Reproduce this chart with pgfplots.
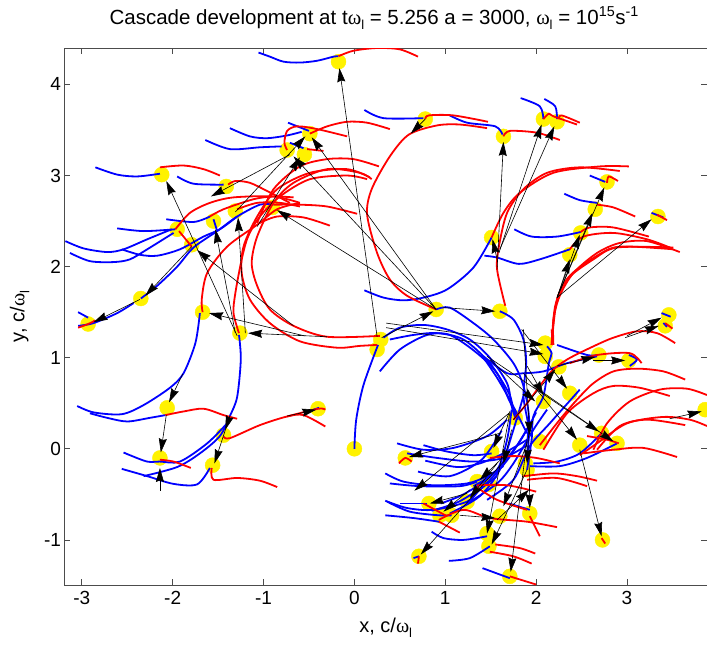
\documentclass[border=0pt]{standalone}
\usepackage{pgfplots}
\pgfplotsset{compat=1.18}
\usepackage{fontspec}
\setmainfont{Liberation Sans}
\newfontfamily\sym{Liberation Serif}
\usetikzlibrary{arrows.meta}
\pgfplotsset{
  bl/.style={color=blue,line width=1.8pt,smooth,no markers},
  rd/.style={color=red,line width=1.8pt,smooth,no markers},
  ar/.style={color=black,line width=0.6pt,no markers,-{Stealth[length=14pt,width=8pt,inset=1.5pt]}},
}
\newcommand\Bl[1]{\addplot[bl] coordinates {#1};}
\newcommand\Rd[1]{\addplot[rd] coordinates {#1};}
\newcommand\Ar[2]{\addplot[ar] coordinates {#1 #2};}
\newcommand\wl{{\sym ω}\raisebox{-5pt}{\fontsize{13}{13}\selectfont l}}
\begin{document}
\begin{tikzpicture}
\useasboundingbox (-64.5pt,-61pt) rectangle (642.5pt,585pt);
\begin{axis}[
  clip mode=individual,
  scale only axis,width=642.5pt,height=537pt,at={(0pt,0pt)},anchor=south west,
  xmin=-3.19,xmax=3.88,ymin=-1.495,ymax=4.40,
  xtick={-3,-2,-1,0,1,2,3},xticklabels={-3,-2,-1,0,1,2,3},
  ytick={-1,0,1,2,3,4},yticklabels={-1,0,1,2,3,4},
  tick align=inside,major tick length=6pt,
  axis line style={color=black!70,line width=0.9pt},
  tick style={color=black!70,line width=0.8pt},
  ticklabel style={font=\fontsize{19}{21}\selectfont},
  xticklabel style={yshift=-3pt},
  xlabel={x, c/\wl},ylabel={y, c/\wl},
  label style={font=\fontsize{20}{22}\selectfont},
  xlabel style={at={(axis description cs:0.5,0)},anchor=base,yshift=-47pt},
  ylabel style={at={(axis description cs:0,0.5)},anchor=base,yshift=40pt},
  title={Cascade development at t\wl{} = 5.256 a = 3000, \wl{} = 10\textsuperscript{15}s\textsuperscript{-1}},
  title style={font=\fontsize{20.5}{22}\selectfont,at={(axis description cs:0.482,1)},anchor=base,yshift=18pt},
]
\addplot[only marks,mark=*,mark size=7.5pt,color=yellow,mark options={draw=yellow,fill=yellow}] coordinates {
(-.175,4.25)(-.49,3.46)(-.55,3.23)(-.74,3.28)(-2.12,3.01)(-1.41,2.88)(-1.95,2.41)(-1.55,2.50)(-1.31,2.61)(-.90,2.65)(-1.79,2.24)
(-2.35,1.65)(-2.93,1.37)(-1.67,1.50)(-1.26,1.27)(-2.06,.45)(-1.44,.15)(-2.14,-.10)(-1.56,-.18)(-.40,.44)(0,0)(.29,1.20)(.25,1.09)
(.90,1.53)(1.60,1.51)(.78,3.62)(1.64,3.43)(2.08,3.62)(2.23,3.59)(1.51,2.32)(2.37,2.13)(2.49,2.37)(2.65,2.63)(2.78,2.93)(3.34,2.55)
(3.46,1.47)(3.42,1.35)
(2.10,1.16)(2.10,1.015)(2.25,.90)(2.37,.61)(1.77,.34)(2.04,.08)(1.51,-.03)(.56,-.10)(.82,-.60)(2.69,1.03)(3.02,.97)(3.86,.43)
(2.72,.17)(2.48,.04)(2.89,.06)(2.08,.52)(1.90,-.23)(1.88,-.16)(1.35,-.36)(1.48,-.39)(1.24,-.58)(.94,-.73)(1.07,-.73)(1.60,-.74)
(1.93,-.71)(1.46,-.93)(1.48,-1.07)(.71,-1.18)(2.73,-1.00)(1.71,-1.40)
};
% blue tracks
\Bl{(-1.055,4.35)(-.93,4.305)(-.78,4.25)(-.6,4.24)(-.41,4.26)(-.23,4.305)(-.175,4.31)}
\Bl{(-.73,3.58)(-.5,3.49)}
\Bl{(-1.37,3.52)(-1.15,3.43)(-.96,3.41)(-.74,3.44)(-.58,3.48)}
\Bl{(-1.64,3.39)(-1.37,3.29)(-1.04,3.31)(-.8,3.32)}
\Bl{(-.71,3.36)(-.56,3.30)}
\Bl{(-2.85,3.09)(-2.61,3.01)(-2.39,2.99)(-2.14,3.02)}
\Bl{(-1.95,2.99)(-1.77,2.91)(-1.44,2.90)}
\Bl{(-2.07,2.52)(-1.77,2.49)(-1.59,2.55)}
\Bl{(-2.61,2.42)(-2.32,2.39)(-1.97,2.41)}
\Bl{(-3.18,2.28)(-2.98,2.20)(-2.72,2.16)(-2.54,2.19)(-2.28,2.30)(-2.01,2.41)}
\Bl{(-3.13,2.15)(-2.91,2.06)(-2.65,2.05)(-2.47,2.08)(-2.28,2.19)(-1.99,2.37)}
\Bl{(-2.56,2.19)(-2.36,2.13)(-2.17,2.12)(-1.92,2.19)(-1.66,2.33)(-1.48,2.41)(-1.29,2.55)}
\Bl{(-2.35,1.65)(-2.17,1.79)(-1.95,2.00)(-1.77,2.21)(-1.51,2.39)(-1.29,2.55)(-1.04,2.68)(-.89,2.68)}
\Bl{(-3.04,1.35)(-2.87,1.38)(-2.61,1.49)(-2.43,1.60)}
\Bl{(-3.04,1.50)(-2.93,1.44)}
\Bl{(-1.55,2.52)(-1.51,2.39)}
\Bl{(.11,3.72)(.32,3.63)(.76,3.63)}
\Bl{(1.05,3.66)(1.24,3.58)(1.55,3.54)(1.63,3.45)}
\Bl{(1.83,3.85)(2.04,3.76)(2.08,3.62)}
\Bl{(2.09,3.84)(2.21,3.76)(2.23,3.62)}
\Bl{(.11,1.74)(.32,1.66)(.54,1.63)(.76,1.66)(1.02,1.75)(1.31,1.99)(1.51,2.32)}
\Bl{(1.43,2.12)(1.57,2.10)(1.81,2.03)(2.04,2.08)(2.37,2.19)}
\Bl{(1.76,2.41)(1.95,2.33)(2.23,2.33)(2.49,2.38)}
\Bl{(2.31,2.80)(2.48,2.73)(2.67,2.70)}
\Bl{(2.59,3.0)(2.76,2.93)}
\Bl{(3.27,2.59)(3.40,2.54)}
\Bl{(3.38,1.49)(3.48,1.45)}
\Bl{(3.40,1.38)(3.44,1.34)}
\Bl{(.90,1.53)(1.05,1.55)(1.31,1.38)(1.53,1.20)(1.75,.94)(1.86,.69)(1.92,.36)(1.90,.06)}
\Bl{(1.60,1.51)(1.75,1.42)(1.86,1.2)(1.89,.94)(1.86,.58)(1.92,.21)(1.90,-.08)}
\Bl{(-1.70,1.49)(-1.75,1.16)(-1.88,.83)(-2.03,.67)(-2.32,.48)(-2.56,.38)(-2.87,.40)(-3.05,.47)}
\Bl{(-1.27,1.25)(-1.25,.98)(-1.29,.57)(-1.37,.36)(-1.48,.14)(-1.70,-.05)(-1.95,-.20)(-2.32,-.30)}
\Bl{(-2.08,.37)(-2.25,.34)(-2.50,.30)(-2.72,.34)(-2.91,.39)}
\Bl{(-1.40,.28)(-1.62,.06)(-1.92,-.14)(-2.14,-.14)(-2.28,-.14)(-2.47,-.07)(-2.54,-.04)}
\Bl{(-1.59,-.21)(-1.73,-.39)(-1.99,-.385)(-2.28,-.30)(-2.56,-.22)}
\Bl{(-.45,.43)(-.39,.45)}
\Bl{(0,0)(.02,.32)(.10,.70)(.26,1.14)}
\Bl{(.32,1.22)(.50,1.33)(.76,1.36)(1.02,1.31)(1.27,1.20)(1.49,1.0)(1.68,.72)(1.73,.47)(1.77,.34)}
\Bl{(.39,1.2)(.65,1.25)(.91,1.27)(1.20,1.2)(1.49,.94)(1.70,.61)(1.75,.43)(1.80,.32)}
\Bl{(.28,.85)(.50,1.09)(.80,1.25)(1.05,1.25)(1.35,1.05)(1.57,.83)(1.70,.54)(1.79,.36)}
\Bl{(1.42,1.015)(1.68,.83)(1.86,.83)(2.08,.85)(2.34,.94)(2.67,1.015)}
\Bl{(1.40,1.03)(1.57,.78)(1.73,.50)(1.90,.17)}
\Bl{(.47,.06)(.76,-.01)(1.09,.01)(1.46,.14)(1.68,.32)}
\Bl{(.76,.04)(1.02,-.03)(1.31,-.07)(1.51,-.05)}
\Bl{(.78,-.13)(1.13,-.20)(1.38,-.16)(1.64,-.05)(1.90,.10)}
\Bl{(.58,-.05)(.91,-.10)(1.31,-.14)(1.64,-.10)(1.90,.04)}
\Bl{(.34,-.27)(.54,-.36)(.87,-.40)(1.24,-.38)(1.46,-.30)(1.64,-.19)}
\Bl{(.39,-.38)(.72,-.41)(1.16,-.41)(1.35,-.36)}
\Bl{(.34,-.57)(.58,-.65)(.87,-.67)(1.24,-.58)(1.38,-.45)(1.57,-.30)}
\Bl{(.36,-.58)(.61,-.69)(.93,-.73)(1.07,-.73)}
\Bl{(.34,-.73)(.65,-.76)(.93,-.80)}
\Bl{(.50,-.60)(.80,-.60)}
\Bl{(.85,-.91)(.98,-.98)(1.20,-1.0)(1.46,-.96)}
\Bl{(1.04,-1.23)(1.27,-1.20)(1.49,-1.07)}
\Bl{(1.41,-1.31)(1.71,-1.42)}
\Bl{(.65,-1.20)(.71,-1.18)}
\Bl{(2.72,.17)(2.48,-.05)(2.23,-.14)(1.97,-.16)}
\Bl{(2.89,.06)(2.56,-.10)(2.26,-.19)(1.93,-.19)}
\Bl{(2.23,1.14)(2.56,1.03)(2.67,1.03)}
\Bl{(3.02,1.03)(3.11,.98)(3.03,.91)}
\Bl{(2.12,1.125)(2.17,1.05)(2.14,.94)(2.08,.58)(1.97,.36)(1.95,.10)(1.90,-.23)}
\Bl{(1.73,.43)(1.68,.10)(1.57,-.23)(1.31,-.41)}
\Bl{(1.86,.58)(1.75,.21)(1.60,-.23)(1.38,-.52)(1.05,-.71)}
\Bl{(2.12,.43)(1.97,.21)(1.75,-.16)(1.57,-.38)(1.24,-.60)}
\Bl{(2.48,.65)(2.15,.28)(1.93,.03)(1.75,-.34)(1.46,-.56)}
\Bl{(1.70,-.60)(1.93,-.67)}
\Bl{(2.0,.40)(1.80,.05)(1.50,-.30)(1.20,-.50)(.95,-.60)}
\Bl{(1.95,.30)(1.70,-.10)(1.45,-.38)(1.15,-.58)(.85,-.68)}
\Bl{(1.62,.20)(1.40,-.12)(1.05,-.30)(.70,-.25)}
% red tracks
\Rd{(-.175,4.31)(-.01,4.37)(.25,4.40)(.50,4.385)(.70,4.305)}
\Rd{(-.49,3.46)(-.30,3.54)(-.08,3.59)(.14,3.58)(.39,3.51)}
\Rd{(-.74,3.28)(-.77,3.36)(-.74,3.49)(-.63,3.54)(-.41,3.51)(-.08,3.43)}
\Rd{(-.52,3.29)(-.34,3.27)}
\Rd{(-2.14,3.09)(-1.88,3.11)(-1.66,3.07)(-1.48,3.0)}
\Rd{(-1.39,2.90)(-1.31,2.94)(-1.15,2.92)(-.96,2.83)(-.71,2.70)}
\Rd{(.28,1.24)(-.30,1.23)(-.67,1.35)(-.93,1.53)(-1.07,1.79)(-1.13,2.04)(-1.07,2.33)(-.89,2.70)(-.67,2.92)(-.30,3.07)(.06,3.03)(.19,2.96)}
\Rd{(.25,1.14)(.06,1.13)(-.19,1.11)(-.60,1.18)(-.93,1.38)(-1.15,1.64)(-1.24,1.93)(-1.22,2.22)(-1.07,2.55)(-.85,2.85)(-.49,3.03)(-.08,3.07)(.17,2.98)}
\Rd{(-1.27,1.27)(-1.33,1.49)(-1.31,1.71)(-1.24,2.08)(-1.17,2.33)(-1.04,2.55)(-.82,2.77)(-.49,2.96)(-.08,3.0)(.14,2.96)}
\Rd{(-1.67,1.50)(-1.68,1.64)(-1.62,1.93)(-1.40,2.22)(-1.07,2.46)(-.85,2.63)(-.60,2.70)}
\Rd{(-1.04,2.48)(-.85,2.55)(-.56,2.54)(-.27,2.45)}
\Rd{(-.89,2.68)(-.60,2.68)(-.30,2.66)(.03,2.58)}
\Rd{(-1.97,2.41)(-1.81,2.59)(-1.59,2.70)(-1.33,2.76)(-.89,2.77)(-.60,2.70)}
\Rd{(-1.59,2.55)(-1.44,2.63)(-1.11,2.74)(-.89,2.77)(-.67,2.76)}
\Rd{(-1.29,2.63)(-1.07,2.70)(-.82,2.70)(-.60,2.66)}
\Rd{(-1.93,2.39)(-1.79,2.22)}
\Rd{(-1.07,2.48)(-.89,2.85)(-.60,3.10)(-.30,3.18)(-.01,3.18)(.27,3.10)}
\Rd{(.90,1.53)(.58,1.68)(.39,1.86)(.25,2.15)(.14,2.57)(.19,2.85)(.39,3.21)(.60,3.45)(.91,3.55)(1.16,3.56)(1.46,3.52)}
\Rd{(1.64,3.43)(1.71,3.49)(2.01,3.47)(2.26,3.39)}
\Rd{(.78,3.62)(.82,3.66)(1.09,3.66)(1.47,3.59)}
\Rd{(2.08,3.62)(2.14,3.68)(2.19,3.65)(2.45,3.56)}
\Rd{(2.25,3.62)(2.28,3.66)(2.48,3.58)}
\Rd{(1.51,2.32)(1.64,2.59)(1.82,2.81)(2.19,3.03)(2.70,3.10)(3.02,3.10)}
\Rd{(1.66,1.57)(1.57,1.97)(1.59,2.22)(1.68,2.59)(1.86,2.85)(2.12,3.03)(2.48,3.09)(2.92,3.05)}
\Rd{(2.49,2.38)(2.59,2.43)(2.85,2.43)(3.24,2.33)}
\Rd{(2.37,2.19)(2.52,2.33)(2.85,2.37)(3.22,2.30)(3.47,2.21)}
\Rd{(2.67,2.68)(2.85,2.65)(3.09,2.55)}
\Rd{(2.78,2.92)(2.80,2.99)(2.90,2.94)}
\Rd{(3.33,2.57)(3.44,2.51)}
\Rd{(3.42,1.38)(3.50,1.32)}
\Rd{(2.19,1.14)(2.19,1.42)(2.26,1.68)(2.41,1.93)(2.67,2.15)(2.92,2.26)(3.22,2.28)(3.58,2.16)}
\Rd{(2.17,1.14)(2.23,1.64)(2.37,1.90)(2.67,2.12)(2.92,2.22)(3.51,2.19)}
\Rd{(2.17,1.14)(2.21,1.57)(2.34,1.86)(2.63,2.08)(2.89,2.21)(3.51,2.21)}
\Rd{(-2.08,.37)(-1.88,.41)(-1.66,.44)(-1.44,.37)(-1.29,.33)}
\Rd{(-1.44,.135)(-1.37,.117)(-1.04,.26)(-.74,.355)(-.56,.37)(-.32,.245)}
\Rd{(-2.14,-.12)(-1.99,-.14)(-1.80,-.21)}
\Rd{(-1.57,-.21)(-1.55,-.34)(-1.29,-.32)(-1.04,-.35)(-.85,-.42)}
\Rd{(-.74,.355)(-.40,.44)(-.32,.43)}
\Rd{(1.75,.32)(1.90,.50)(2.15,.83)(2.34,.98)(2.63,1.125)(2.85,1.22)(3.11,1.29)(3.33,1.27)(3.53,1.16)}
\Rd{(2.04,.04)(2.26,.32)(2.45,.54)(2.63,.72)(2.85,.85)(3.11,.88)(3.40,.85)(3.64,.76)}
\Rd{(2.08,-.01)(2.34,.39)(2.63,.61)(2.85,.69)(3.14,.67)(3.47,.58)}
\Rd{(2.63,-.01)(2.78,.28)(3.03,.52)(3.36,.65)(3.66,.66)(3.88,.59)}
\Rd{(2.48,-.07)(2.67,.06)(3.0,.28)(3.40,.35)(3.69,.32)(3.88,.25)}
\Rd{(2.67,-.01)(2.92,.25)(3.22,.32)(3.64,.26)}
\Rd{(2.52,-.05)(2.85,-.01)(3.18,.01)(3.55,-.09)}
\Rd{(2.37,.94)(2.67,1.03)(3.03,1.05)(3.16,.94)}
\Rd{(1.49,-.10)(1.75,-.08)(2.0,-.10)(2.26,-.16)}
\Rd{(1.86,-.30)(2.19,-.27)(2.45,-.30)(2.67,-.35)}
\Rd{(1.90,-.34)(2.23,-.32)(2.56,-.41)}
\Rd{(1.35,-.40)(1.68,-.40)(2.0,-.47)}
\Rd{(1.33,-.41)(1.57,-.56)(1.90,-.67)}
\Rd{(.93,-.78)(1.20,-.67)(1.49,-.76)(1.90,-.80)(2.23,-.86)}
\Rd{(.93,-.80)(1.16,-.92)}
\Rd{(.76,-.60)(1.02,-.74)}
\Rd{(1.93,-.74)(2.04,-.96)}
\Rd{(1.55,-1.05)(1.82,-1.09)(1.99,-1.15)}
\Rd{(1.49,-1.13)(1.75,-1.18)(1.95,-1.26)}
\Rd{(1.71,-1.40)(2.0,-1.49)}
\Rd{(.71,-1.18)(.70,-1.26)}
\Rd{(2.72,-.98)(2.76,-1.04)}
\Rd{(.49,-.16)(.56,-.10)(.63,-.14)}
\Rd{(2.56,.14)(2.78,.10)(2.91,.06)}
\Rd{(2.17,1.31)(2.18,1.20)}
\Rd{(-3.04,1.33)(-2.93,1.37)(-2.85,1.41)}
% arrows
\Ar{(.25,1.23)}{(-.165,4.18)}
\Ar{(-2.36,1.64)}{(-2.87,1.39)}
\Ar{(-1.79,2.22)}{(-2.30,1.68)}
\Ar{(-.67,1.35)}{(-1.73,2.18)}
\Ar{(.90,1.53)}{(-.85,2.62)}
\Ar{(-1.29,1.24)}{(-2.07,2.94)}
\Ar{(-1.31,1.27)}{(-1.53,2.41)}
\Ar{(-1.20,1.27)}{(-1.28,2.54)}
\Ar{(-.71,3.23)}{(-1.58,2.77)}
\Ar{(-1.31,2.60)}{(-.54,3.43)}
\Ar{(.90,1.53)}{(-.47,3.42)}
\Ar{(.90,1.53)}{(-.67,3.21)}
\Ar{(-1.07,2.44)}{(-.60,3.20)}
\Ar{(-.55,1.24)}{(-1.60,1.49)}
\Ar{(-.30,1.23)}{(-1.17,1.27)}
\Ar{(-1.89,.82)}{(-2.04,.51)}
\Ar{(-2.07,.37)}{(-2.13,-.04)}
\Ar{(-2.14,-.46)}{(-2.14,-.21)}
\Ar{(-1.37,.36)}{(-1.42,.21)}
\Ar{(-1.37,.36)}{(-1.54,-.16)}
\Ar{(-.74,.36)}{(-.42,.43)}
\Ar{(.78,3.62)}{(.62,3.46)}
\Ar{(1.57,1.97)}{(1.64,3.37)}
\Ar{(1.59,2.15)}{(2.06,3.56)}
\Ar{(1.60,2.19)}{(2.20,3.54)}
\Ar{(1.57,2.08)}{(1.52,2.30)}
\Ar{(.30,1.22)}{(.87,1.51)}
\Ar{(.98,1.55)}{(1.55,1.51)}
\Ar{(2.23,1.66)}{(2.37,2.08)}
\Ar{(2.23,1.66)}{(2.48,2.35)}
\Ar{(2.23,1.66)}{(2.62,2.59)}
\Ar{(2.23,1.66)}{(2.75,2.87)}
\Ar{(2.23,1.66)}{(3.27,2.52)}
\Ar{(3.0,1.24)}{(3.38,1.44)}
\Ar{(2.98,1.22)}{(3.35,1.35)}
\Ar{(.35,1.38)}{(2.08,1.14)}
\Ar{(.35,1.33)}{(2.08,1.04)}
\Ar{(1.75,.32)}{(2.21,.87)}
\Ar{(1.84,1.31)}{(2.34,.66)}
\Ar{(2.23,.91)}{(2.65,1.01)}
\Ar{(2.63,.97)}{(2.98,.97)}
\Ar{(3.47,.33)}{(3.82,.41)}
\Ar{(1.46,1.015)}{(2.69,.19)}
\Ar{(1.86,.83)}{(2.45,.10)}
\Ar{(2.48,-.01)}{(2.72,-.96)}
\Ar{(1.90,.10)}{(1.72,-1.35)}
\Ar{(1.90,-.23)}{(1.51,-1.05)}
\Ar{(1.71,.39)}{(1.46,-.93)}
\Ar{(1.66,-.12)}{(.73,-1.16)}
\Ar{(1.60,.17)}{(.60,-.09)}
\Ar{(1.70,.39)}{(.66,-.46)}
\Ar{(1.24,-.49)}{(.83,-.60)}
\Ar{(1.27,-.45)}{(.98,-.69)}
\Ar{(1.90,.06)}{(1.64,-.63)}
\Ar{(1.92,.03)}{(1.93,-.65)}
\Ar{(1.57,-.78)}{(1.92,-.45)}
\Ar{(1.16,-.73)}{(1.55,-.76)}
\Ar{(1.71,.41)}{(1.53,.01)}
\Ar{(1.92,.21)}{(1.90,-.16)}
\Ar{(1.86,1.31)}{(1.93,.15)}
\Ar{(1.73,.21)}{(1.64,-.16)}
\Ar{(1.49,.98)}{(1.99,.52)}
\Ar{(2.0,.67)}{(2.85,.08)}
\Ar{(1.90,.91)}{(2.08,.59)}
\Ar{(1.57,-.16)}{(1.27,-.54)}
\Ar{(1.68,-.05)}{(1.38,-.34)}
\end{axis}
\end{tikzpicture}
\end{document}
